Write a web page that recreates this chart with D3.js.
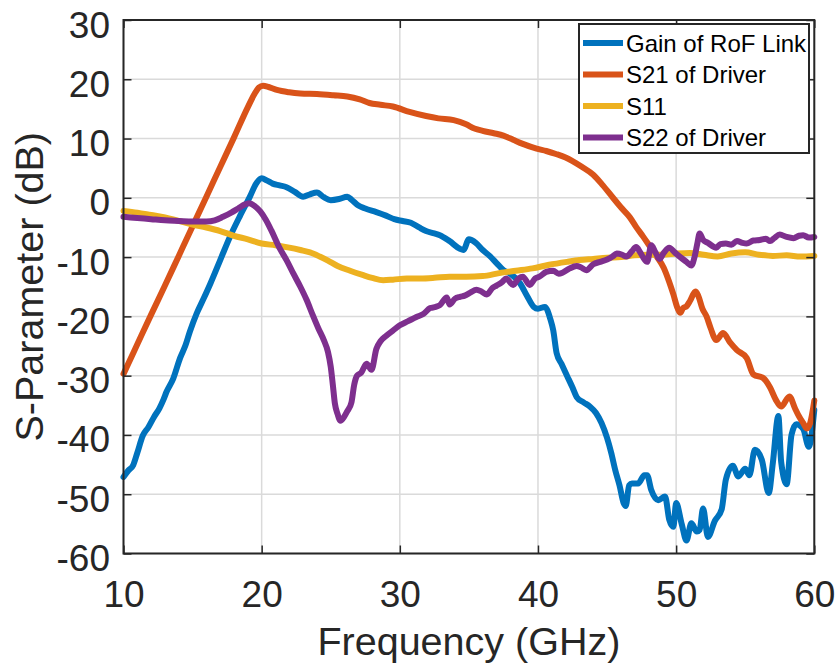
<!DOCTYPE html>
<html>
<head>
<meta charset="utf-8">
<script src="https://cdn.jsdelivr.net/npm/d3@7"></script>
<style>
  html, body { margin: 0; padding: 0; background: #ffffff; }
  svg { display: block; font-family: "Liberation Sans", Arial, Helvetica, sans-serif; }
</style>
</head>
<body>
<svg id="chart" width="840" height="664"></svg>
<script>
// Frequency (GHz) / level (dB) pairs for each measured trace
const gainRoF = [
  [10,-47.1],[10.35,-46.0],[10.7,-45.1],[11.0,-43.0],[11.4,-40.1],[11.8,-38.7],[12.2,-37.0],[12.6,-35.5],
  [12.9,-34.0],[13.1,-32.8],[13.6,-30.5],[14.1,-27.0],[14.5,-24.8],[14.8,-22.6],[15.3,-19.5],[15.8,-17.0],
  [16.3,-14.4],[17.0,-10.5],[17.7,-6.6],
  [18.4,-3.2],[19.15,0.2],[19.6,2.4],[20.0,3.3],[20.4,2.9],[20.8,2.4],[21.3,2.1],[21.8,1.8],[22.4,1.0],
  [23.0,0.2],[23.5,0.6],[24.0,0.9],[24.5,0.1],[25.0,-0.4],[25.6,-0.2],[26.2,0.2],[26.5,-0.3],[27.0,-1.3],
  [27.5,-1.8],[28.3,-2.4],[29.0,-3.0],[29.6,-3.6],[30.2,-3.9],[30.8,-4.2],[31.4,-5.0],[31.9,-5.6],
  [32.5,-6.0],[32.9,-6.3],[33.6,-7.3],[34.35,-8.6],[34.6,-8.8],[35.0,-7.0],[35.5,-7.6],[36.0,-8.8],
  [36.5,-9.8],[37.0,-11.0],[37.5,-12.2],[38.0,-12.8],[38.7,-14.4],[39.2,-16.5],[39.7,-18.4],[40.0,-18.7],
  [40.5,-18.4],[40.9,-20.5],[41.1,-22.3],[41.35,-26.2],[41.7,-28.0],[42.1,-30.0],[42.5,-32.0],[42.8,-33.6],
  [43.3,-34.5],[43.75,-35.2],[44.2,-36.3],[44.6,-38.0],[45.0,-40.5],[45.3,-43.0],[45.6,-46.0],[45.9,-48.5],
  [46.2,-51.5],[46.35,-52.0],[46.6,-48.5],[46.8,-48.2],[47.25,-48.2],[47.7,-46.8],[47.9,-46.8],[48.2,-49.3],
  [48.7,-51.0],[49.2,-50.4],[49.5,-54.3],[49.8,-55.5],[50.0,-51.5],[50.4,-55.0],[50.75,-57.8],[51.1,-54.9],
  [51.5,-56.3],[51.7,-56.0],[51.95,-52.4],[52.3,-57.2],[52.8,-54.5],[53.3,-52.5],[53.6,-47.5],[54.1,-45.2],
  [54.5,-47.0],[55.0,-45.7],[55.3,-46.8],[55.7,-42.5],[56.2,-44.2],[56.7,-49.8],[57.0,-44.7],[57.4,-36.8],
  [57.6,-44.5],[58.0,-48.3],[58.35,-40.0],[58.7,-38.2],[59.2,-39.0],[59.6,-42.0],[60.0,-35.8]
];

const s21Driver = [
  [10,-29.7],[11,-24.7],[12,-19.7],[13,-14.8],[14,-9.8],[15,-4.8],[16,0.2],[17,5.2],[18,10.2],[19,15.3],
  [19.5,17.6],[19.8,18.6],[20.1,18.9],[20.5,18.7],[21.1,18.2],[22,17.8],[22.8,17.6],[24,17.5],[25.2,17.3],
  [26.2,17.1],[27.1,16.6],[27.8,16.0],[28.6,15.7],[29.5,15.4],[30.7,14.5],[31.9,13.8],[32.8,13.4],
  [33.9,13.1],[34.8,12.4],[35.4,11.7],[36.0,11.3],[36.8,10.9],[37.5,10.5],[38.2,9.8],[38.9,9.1],
  [39.9,8.3],[40.6,7.9],[41.3,7.4],[42.0,6.8],[42.5,6.2],[43.2,5.2],[44.0,3.9],[44.7,2.1],[45.4,0.1],
  [46.0,-1.6],[46.65,-3.3],[47.1,-4.9],[47.6,-6.5],[48.1,-8.2],[48.6,-9.9],[49.1,-11.8],[49.5,-14.2],
  [49.8,-16.3],[50.1,-18.6],[50.3,-19.4],[50.5,-18.6],[50.75,-18.3],[51.0,-17.4],[51.4,-15.8],[51.6,-16.5],
  [51.9,-18.7],[52.2,-20.0],[52.5,-22.0],[52.9,-24.0],[53.4,-22.8],[53.9,-24.4],[54.4,-25.7],[55.1,-27.0],
  [55.6,-29.8],[56.3,-30.4],[56.8,-32.0],[57.2,-34.0],[57.6,-35.2],[58.2,-33.5],[58.6,-35.5],[58.9,-36.9],
  [59.2,-38.0],[59.45,-38.9],[59.7,-38.0],[60,-34.2]
];

const s11 = [
  [10,-2.2],[11,-2.5],[12,-2.9],[13,-3.3],[14,-3.9],[15,-4.5],[16,-5.0],[17,-5.6],[18,-6.4],[19,-7.0],
  [20,-7.7],[21,-8.0],[22,-8.4],[22.8,-8.8],[23.5,-9.2],[24.2,-9.9],[24.8,-10.6],[25.5,-11.5],[26.4,-12.3],
  [27.3,-13.0],[28.0,-13.5],[28.8,-13.9],[29.5,-13.8],[30.5,-13.6],[31.5,-13.6],[32.5,-13.5],[33.6,-13.3],
  [34.8,-13.3],[36.0,-13.2],[37.2,-12.7],[38.4,-12.3],[39.6,-11.9],[40.8,-11.3],[42.1,-10.8],[43.0,-10.5],
  [44.0,-10.3],[45.0,-10.1],[46.0,-10.0],[47.0,-9.7],[48.0,-9.6],[49.0,-9.6],[50.0,-9.4],[51.0,-9.3],
  [52.0,-9.6],[53.0,-9.9],[54.0,-9.4],[55.0,-9.2],[56.0,-9.6],[57.0,-9.8],[58.0,-9.7],[59.0,-9.9],[60.0,-9.8]
];

const s22Driver = [
  [10,-3.2],[11,-3.4],[12,-3.6],[13,-3.8],[14,-3.9],[15,-4.0],[16,-4.0],[16.6,-3.8],[17.2,-3.2],[17.8,-2.5],
  [18.3,-1.8],[18.8,-1.1],[19.1,-0.9],[19.5,-1.4],[19.9,-2.3],[20.3,-3.7],[20.7,-5.5],[21.3,-8.5],
  [21.8,-10.5],[22.3,-12.8],[22.8,-15.0],[23.25,-17.2],[23.7,-19.8],[24.1,-22.0],[24.5,-24.0],[24.8,-26.0],
  [25.0,-28.5],[25.15,-31.5],[25.3,-34.7],[25.5,-36.5],[25.7,-37.6],[25.95,-37.0],[26.2,-36.0],[26.5,-34.5],
  [26.7,-31.5],[26.9,-30.0],[27.2,-29.5],[27.6,-28.0],[27.95,-29.0],[28.3,-25.5],[28.6,-24.2],[29.0,-23.3],
  [29.5,-22.4],[30.0,-21.5],[30.6,-20.8],[31.2,-20.1],[31.7,-19.6],[32.2,-18.6],[32.6,-18.4],[32.9,-18.1],
  [33.4,-16.8],[33.6,-18.0],[34.0,-17.0],[34.35,-16.7],[34.7,-16.5],[35.1,-16.0],[35.55,-15.5],[35.9,-15.8],
  [36.3,-16.3],[36.7,-15.2],[37.0,-14.8],[37.4,-14.2],[37.7,-13.6],[38.2,-14.7],[38.6,-13.6],[38.9,-13.3],
  [39.4,-14.7],[39.8,-13.6],[40.1,-13.3],[40.6,-12.5],[41.1,-12.3],[41.5,-12.8],[41.8,-12.6],[42.3,-11.9],
  [42.8,-11.5],[43.1,-11.7],[43.5,-12.2],[44.0,-11.2],[44.5,-10.8],[45.0,-10.4],[45.4,-9.9],[45.7,-9.4],
  [46.1,-9.6],[46.4,-9.9],[46.8,-9.0],[47.1,-8.3],[47.4,-9.2],[47.6,-10.0],[47.9,-10.8],[48.2,-8.0],
  [48.5,-9.2],[48.8,-10.3],[49.1,-9.3],[49.5,-8.4],[49.9,-9.2],[50.3,-10.0],[50.75,-10.8],[51.1,-11.4],
  [51.35,-9.8],[51.55,-7.5],[51.7,-6.0],[51.95,-7.1],[52.3,-7.6],[52.9,-8.4],[53.2,-7.8],[53.6,-7.7],
  [54.0,-7.9],[54.4,-7.3],[54.8,-7.6],[55.1,-7.7],[55.6,-7.2],[56.05,-7.1],[56.5,-6.9],[56.8,-7.3],
  [57.1,-6.8],[57.5,-6.2],[58.0,-6.6],[58.5,-6.8],[58.9,-6.4],[59.2,-6.3],[59.6,-6.7],[60,-6.6]
];

const seriesNames = ["Gain of RoF Link", "S21 of Driver", "S11", "S22 of Driver"];
const seriesColors = ["#0072BD", "#D95319", "#EDB120", "#7E2F8E"];
const xTicks = [10, 20, 30, 40, 50, 60];
const yTicks = [-60, -50, -40, -30, -20, -10, 0, 10, 20, 30];
const xTitle = "Frequency (GHz)";
const yTitle = "S-Parameter (dB)";

const svg = d3.select("#chart");
const plotLeft = 123.5, plotRight = 814.3, plotTop = 20, plotBottom = 553.5;
const axisColor = "#262626";

const x = d3.scaleLinear().domain([10, 60]).range([plotLeft, plotRight]);
const y = d3.scaleLinear().domain([-60, 30]).range([plotBottom, plotTop]);

// grid
const grid = svg.append("g").attr("stroke", "#dadada").attr("stroke-width", 1.5);
grid.selectAll("line.gx").data(xTicks).join("line")
  .attr("x1", d => x(d)).attr("x2", d => x(d)).attr("y1", plotTop).attr("y2", plotBottom);
grid.selectAll("line.gy").data(yTicks).join("line")
  .attr("x1", plotLeft).attr("x2", plotRight).attr("y1", d => y(d)).attr("y2", d => y(d));

// traces
const line = d3.line().x(d => x(d[0])).y(d => y(d[1])).curve(d3.curveMonotoneX);
const traces = [gainRoF, s21Driver, s11, s22Driver];
const plot = svg.append("g");
traces.forEach((data, i) => {
  plot.append("path")
    .datum(data)
    .attr("d", line)
    .attr("fill", "none")
    .attr("stroke", seriesColors[i])
    .attr("stroke-width", 6)
    .attr("stroke-linejoin", "round")
    .attr("stroke-linecap", "round");
});

// axes (ticks pointing inward on all four sides), plain hyphen for negatives
const tickLen = 8;
const tickFont = 37;
const plainFormat = d => String(d);
const xAxis = d3.axisBottom(x).tickValues(xTicks).tickFormat(plainFormat)
  .tickSizeInner(-tickLen).tickSizeOuter(0).tickPadding(0);
const yAxis = d3.axisLeft(y).tickValues(yTicks).tickFormat(plainFormat)
  .tickSizeInner(-tickLen).tickSizeOuter(0).tickPadding(0);
const xTopAxis = d3.axisTop(x).tickValues(xTicks).tickSizeInner(-tickLen).tickSizeOuter(0).tickFormat("");
const yRightAxis = d3.axisRight(y).tickValues(yTicks).tickSizeInner(-tickLen).tickSizeOuter(0).tickFormat("");

function styleAxis(g) {
  g.select(".domain").remove();
  g.selectAll(".tick line").attr("stroke", axisColor).attr("stroke-width", 1.5);
  g.selectAll(".tick text").attr("fill", axisColor).attr("font-size", tickFont)
    .attr("font-family", "'Liberation Sans', Arial, sans-serif");
}

const gx = svg.append("g").attr("transform", `translate(0,${plotBottom})`).call(xAxis).call(styleAxis);
gx.selectAll(".tick text").attr("y", 53.5).attr("dy", null);
const gy = svg.append("g").attr("transform", `translate(${plotLeft},0)`).call(yAxis).call(styleAxis);
gy.selectAll(".tick text").attr("x", -13.5).attr("dy", "0.46em");
svg.append("g").attr("transform", `translate(0,${plotTop})`).call(xTopAxis).call(styleAxis);
svg.append("g").attr("transform", `translate(${plotRight},0)`).call(yRightAxis).call(styleAxis);

// axes box
svg.append("rect")
  .attr("x", plotLeft).attr("y", plotTop).attr("width", plotRight - plotLeft).attr("height", plotBottom - plotTop)
  .attr("fill", "none").attr("stroke", axisColor).attr("stroke-width", 2);

// axis titles
svg.append("text")
  .attr("x", (plotLeft + plotRight) / 2).attr("y", 655)
  .attr("text-anchor", "middle").attr("font-size", 39.5).attr("fill", axisColor)
  .text(xTitle);
svg.append("text")
  .attr("transform", `translate(43,${(plotTop + plotBottom) / 2}) rotate(-90)`)
  .attr("text-anchor", "middle").attr("font-size", 39.5).attr("fill", axisColor)
  .text(yTitle);

// legend
const legend = svg.append("g");
legend.append("rect")
  .attr("x", 579).attr("y", 24).attr("width", 230).attr("height", 129)
  .attr("fill", "#ffffff").attr("stroke", axisColor).attr("stroke-width", 2);
const rows = legend.selectAll("g.row").data(seriesNames).join("g")
  .attr("transform", (d, i) => `translate(0,${43 + i * 31.5})`);
rows.append("line")
  .attr("x1", 583).attr("x2", 623).attr("y1", 0).attr("y2", 0)
  .attr("stroke", (d, i) => seriesColors[i]).attr("stroke-width", 6);
rows.append("text")
  .attr("x", 626).attr("y", 8.6)
  .attr("font-size", 24).attr("fill", "#000000")
  .text(d => d);
</script>
</body>
</html>
